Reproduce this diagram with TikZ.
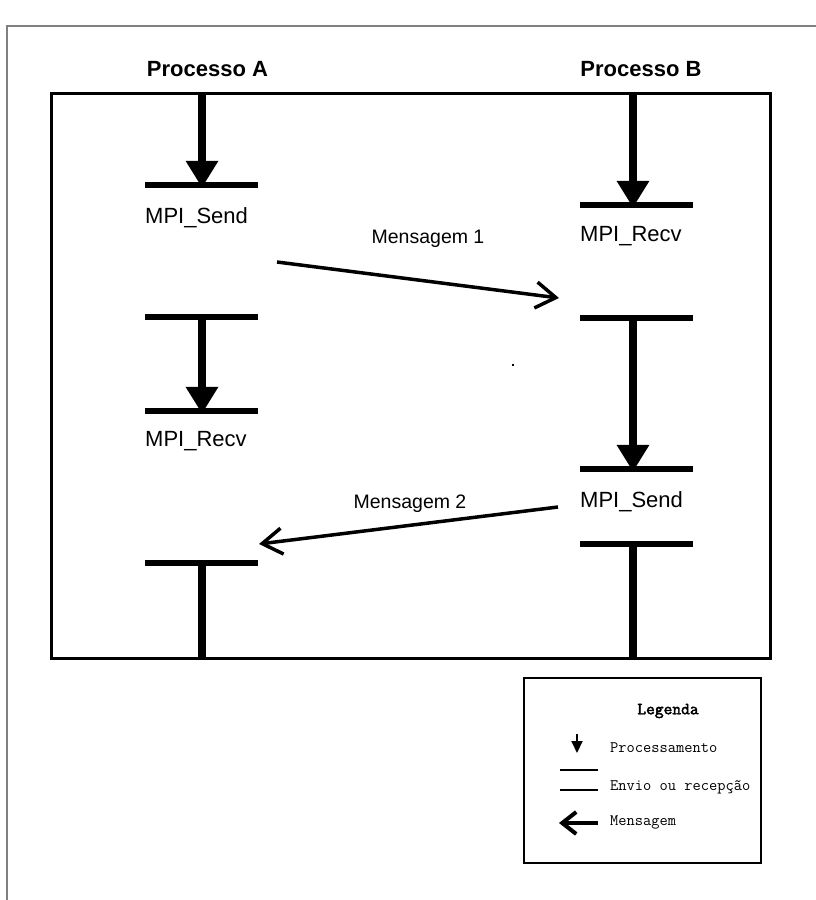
\documentclass[tikz,border=0pt]{standalone}
\usepackage{fontspec}
\setmainfont{Liberation Sans}
\newfontfamily\legfont{Latin Modern Mono}
\newfontfamily\legboldfont{Latin Modern Mono}[FakeBold=2.5]
\usetikzlibrary{arrows.meta}
\begin{document}
\begin{tikzpicture}[x=1pt,y=-1pt,
  frame/.style={draw=black!50, line width=1.5pt},
  mainbox/.style={draw=black, line width=2.5pt},
  legbox/.style={draw=black, line width=2pt},
  bar/.style={line width=5.5pt},
  proc/.style={line width=8pt, -{Triangle[width=31pt,length=27pt]}},
  procline/.style={line width=8pt},
  msg/.style={line width=3.5pt, -{Straight Barb[length=20pt,width=26pt,line width=3.5pt]}},
  title/.style={font=\bfseries\fontsize{22}{26}\selectfont, inner sep=0pt, anchor=base},
  call/.style={font=\fontsize{22}{26}\selectfont, inner sep=0pt, anchor=base west},
  msglabel/.style={font=\fontsize{19.5}{24}\selectfont, inner sep=0pt, anchor=base},
  legtext/.style={font=\legfont\fontsize{16}{19}\selectfont, inner sep=0pt, anchor=west},
  legtitle/.style={font=\legboldfont\fontsize{17}{20}\selectfont, inner sep=0pt}
]
\useasboundingbox (0,0) rectangle (816,900);
% outer frame
\coordinate (fTR) at (816,26);
\coordinate (fTL) at (7,26);
\coordinate (fBL) at (7,900);
\draw[frame] (fTR) -- (fTL) -- (fBL);

% titles
\node[title] (tA) at (207.5,76) {Processo A};
\node[title] (tB) at (641,76) {Processo B};

% main box
\node[mainbox, minimum width=719pt, minimum height=565pt, inner sep=0pt, anchor=north west] (box) at (50,92) {};

% process A
\coordinate (A0) at (202,92);
\coordinate (A1) at (202,185);
\coordinate (A1l) at (145,185); \coordinate (A1r) at (258,185);
\coordinate (A2) at (202,317);
\coordinate (A2l) at (145,317); \coordinate (A2r) at (258,317);
\coordinate (A3) at (202,411);
\coordinate (A3l) at (145,411); \coordinate (A3r) at (258,411);
\coordinate (A4) at (202,563);
\coordinate (A4l) at (145,563); \coordinate (A4r) at (258,563);
\coordinate (A5) at (202,657);

\draw[proc] (A0) -- ([yshift=-2.75pt]A1);
\draw[bar] (A1l) -- (A1r);
\draw[bar] (A2l) -- (A2r);
\draw[proc] (A2) -- ([yshift=-2.75pt]A3);
\draw[bar] (A3l) -- (A3r);
\draw[bar] (A4l) -- (A4r);
\draw[procline] (A4) -- (A5);

% process B
\coordinate (B0) at (633,92);
\coordinate (B1) at (633,205);
\coordinate (B1l) at (580,205); \coordinate (B1r) at (693,205);
\coordinate (B2) at (633,318);
\coordinate (B2l) at (580,318); \coordinate (B2r) at (693,318);
\coordinate (B3) at (633,469);
\coordinate (B3l) at (580,469); \coordinate (B3r) at (693,469);
\coordinate (B4) at (633,544);
\coordinate (B4l) at (580,544); \coordinate (B4r) at (693,544);
\coordinate (B5) at (633,657);

\draw[proc] (B0) -- ([yshift=-2.75pt]B1);
\draw[bar] (B1l) -- (B1r);
\draw[bar] (B2l) -- (B2r);
\draw[proc] (B2) -- ([yshift=-2.75pt]B3);
\draw[bar] (B3l) -- (B3r);
\draw[bar] (B4l) -- (B4r);
\draw[procline] (B4) -- (B5);

% labels
\node[call] (sA) at (145,223) {MPI\_Send};
\node[call] (rB) at (580,241) {MPI\_Recv};
\node[call] (rA) at (145,446) {MPI\_Recv};
\node[call] (sB) at (580,507) {MPI\_Send};

% messages
\coordinate (m1s) at (277,262);
\coordinate (m1e) at (559,298);
\draw[msg] (m1s) -- (m1e);
\node[msglabel] (m1) at (428,243) {Mensagem 1};
\coordinate (m2s) at (558,507);
\coordinate (m2e) at (259,544);
\draw[msg] (m2s) -- (m2e);
\node[msglabel] (m2) at (410,508) {Mensagem 2};

% stray dot
\fill (512,364) rectangle (514,366);

% legend
\node[legbox, minimum width=237pt, minimum height=185pt, inner sep=0pt, anchor=north west] (leg) at (523,677) {};
\node[legtitle] (legT) at (668,711) {Legenda};
\coordinate (lp1) at (577,734);
\coordinate (lp2) at (577,753);
\draw[line width=2pt, -{Triangle[width=11pt,length=12pt]}] (lp1) -- (lp2);
\node[legtext] (lP) at (610,748) {Processamento};
\coordinate (ll1) at (560,770); \coordinate (ll2) at (598,770);
\coordinate (ll3) at (560,790); \coordinate (ll4) at (598,790);
\draw[line width=2.5pt] (ll1) -- (ll2);
\draw[line width=2.5pt] (ll3) -- (ll4);
\node[legtext] (lE) at (610,787) {Envio ou recepção};
\coordinate (lm1) at (598,823); \coordinate (lm2) at (559,823);
\draw[line width=4pt, -{Straight Barb[length=14pt,width=22pt,line width=4pt]}] (lm1) -- (lm2);
\node[legtext] (lM) at (610,822) {Mensagem};
\end{tikzpicture}
\end{document}
